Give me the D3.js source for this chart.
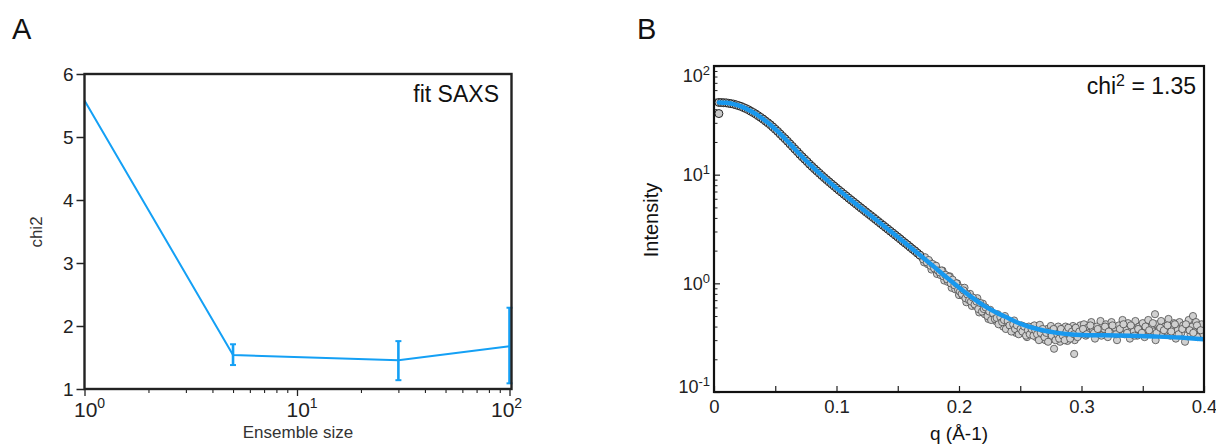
<!DOCTYPE html>
<html><head><meta charset="utf-8">
<script src="https://cdn.jsdelivr.net/npm/d3@7"></script>
<style>
body{margin:0;background:#fff;}
text{font-family:"Liberation Sans", Arial, sans-serif;}
</style>
</head><body>
<svg id="chart" width="1216" height="447"></svg>
<script>
// ---------- Panel A data ----------
const ensembleSizes = [1, 5, 30, 100];
const chi2Values    = [5.58, 1.54, 1.455, 1.68];
const chi2ErrLow    = [null, 1.38, 1.14, 1.09];
const chi2ErrHigh   = [null, 1.71, 1.76, 2.29];
const chi2Ticks     = [1, 2, 3, 4, 5, 6];
const ensembleTickExps = [0, 1, 2];
const ensembleMinorTicks = [2,3,4,5,6,7,8,9,20,30,40,50,60,70,80,90];

// ---------- Panel B data ----------
const fitQ = [0.004,0.010,0.016,0.022,0.028,0.034,0.040,0.046,0.052,0.058,0.064,0.070,0.080,0.090,0.100,0.110,0.120,0.130,0.140,0.150,0.160,0.170,0.180,0.190,0.200,0.210,0.220,0.230,0.240,0.250,0.260,0.270,0.280,0.290,0.300,0.320,0.340,0.360,0.380,0.400];
const fitI = [46.2,45.8,44.6,42.5,39.6,36.2,32.5,28.8,25.0,21.4,18.2,15.4,11.9,9.38,7.52,6.08,4.94,4.03,3.28,2.67,2.16,1.75,1.41,1.13,0.916,0.75,0.627,0.542,0.479,0.425,0.39,0.366,0.35,0.34,0.335,0.332,0.329,0.324,0.317,0.305];

// observed points, low q (lying on the fit)
const obsLow = [[0.004,36.5],[0.004,46.2],[0.006,46.1],[0.008,45.9],[0.010,45.8],[0.012,45.4],[0.014,45.0],[0.016,44.6],[0.018,43.9],[0.020,43.2],[0.022,42.5],[0.024,41.5],[0.026,40.6],[0.028,39.6],[0.030,38.4],[0.032,37.3],[0.034,36.2],[0.036,34.9],[0.038,33.7],[0.040,32.5],[0.042,31.2],[0.044,30.0],[0.046,28.8],[0.048,27.5],[0.050,26.2],[0.052,25.0],[0.054,23.7],[0.056,22.5],[0.058,21.4],[0.060,20.3],[0.062,19.2],[0.064,18.2],[0.066,17.2],[0.068,16.3],[0.070,15.4],[0.072,14.6],[0.074,13.9],[0.076,13.2],[0.078,12.5],[0.080,11.9],[0.082,11.33],[0.084,10.81],[0.086,10.31],[0.088,9.83],
[0.090,9.38],[0.092,8.97],[0.094,8.58],[0.096,8.21],[0.098,7.86],[0.100,7.52],[0.102,7.2],[0.104,6.91],[0.106,6.62],[0.108,6.35],[0.110,6.08],[0.112,5.83],[0.114,5.6],[0.116,5.37],[0.118,5.15],[0.120,4.94],[0.122,4.75],[0.124,4.55],[0.126,4.37],[0.128,4.2],[0.130,4.03],[0.132,3.87],[0.134,3.71],[0.136,3.56],[0.138,3.42],[0.140,3.28],[0.142,3.15],[0.144,3.02],[0.146,2.9],[0.148,2.78],[0.150,2.67],[0.152,2.56],[0.154,2.45],[0.156,2.35],[0.158,2.26],[0.160,2.16],[0.162,2.07],[0.164,1.99],[0.166,1.9],[0.168,1.82]];

// observed points, high q (noisy)
const obsHigh = [[0.1700,1.71],[0.1715,1.56],[0.1730,1.66],[0.1745,1.50],[0.1760,1.58],[0.1775,1.34],[0.1790,1.43],[0.1805,1.46],[0.1820,1.22],[0.1835,1.32],[0.1850,1.19],[0.1865,1.31],[0.1880,1.06],[0.1895,1.18],[0.1910,1.03],[0.1925,1.16],[0.1940,0.91],[0.1955,1.02],[0.1970,0.88],[0.1985,1.00],
[0.2000,0.78],[0.2015,0.91],[0.2030,0.77],[0.2045,0.91],[0.2060,0.67],[0.2075,0.75],[0.2090,0.80],[0.2105,0.62],[0.2120,0.70],[0.2135,0.62],[0.2150,0.73],[0.2165,0.54],[0.2180,0.60],[0.2195,0.65],[0.2210,0.52],[0.2225,0.57],[0.2240,0.47],[0.2255,0.57],[0.2270,0.49],[0.2285,0.51],
[0.2300,0.45],[0.2315,0.52],[0.2330,0.44],[0.2345,0.47],[0.2360,0.40],[0.2375,0.50],[0.2390,0.42],[0.2405,0.39],[0.2420,0.44],[0.2435,0.39],[0.2450,0.455],[0.2465,0.35],[0.2480,0.39],[0.2495,0.37],[0.2510,0.41],[0.2525,0.35],[0.2540,0.38],[0.2555,0.32],[0.2570,0.40],[0.2585,0.35],
[0.2600,0.355],[0.2615,0.41],[0.2630,0.32],[0.2645,0.365],[0.2660,0.415],[0.2675,0.315],[0.2690,0.365],[0.2705,0.30],[0.2720,0.38],[0.2735,0.33],[0.2750,0.405],[0.2765,0.31],[0.2776,0.25],[0.2780,0.355],[0.2795,0.315],[0.2810,0.40],[0.2825,0.29],[0.2840,0.36],[0.2855,0.32],[0.2870,0.40],[0.2885,0.295],[0.2900,0.365],[0.2915,0.325],[0.2930,0.405],[0.2940,0.224],[0.2945,0.30],[0.2960,0.37],[0.2975,0.33],[0.2990,0.41],
[0.3005,0.36],[0.3020,0.42],[0.3035,0.33],[0.3050,0.39],[0.3065,0.35],[0.3080,0.44],[0.3095,0.37],[0.3110,0.31],[0.3125,0.40],[0.3140,0.36],[0.3155,0.45],[0.3170,0.34],[0.3185,0.38],[0.3200,0.42],[0.3215,0.32],[0.3230,0.37],[0.3245,0.44],[0.3260,0.35],[0.3275,0.39],[0.3290,0.30],[0.3305,0.41],[0.3320,0.37],[0.3335,0.46],[0.3350,0.34],[0.3365,0.38],[0.3380,0.43],[0.3395,0.31],[0.3410,0.39],[0.3425,0.36],[0.3440,0.45],[0.3455,0.33],[0.3470,0.40],[0.3485,0.37],[0.3500,0.43],[0.3515,0.32],[0.3530,0.38],[0.3545,0.46],[0.3560,0.35],[0.3575,0.41],[0.3590,0.36],[0.3600,0.52],[0.3605,0.30],[0.3620,0.42],[0.3635,0.38],[0.3650,0.45],[0.3665,0.34],[0.3680,0.40],[0.3695,0.36],[0.3710,0.47],[0.3725,0.33],[0.3740,0.39],[0.3755,0.43],[0.3770,0.31],[0.3785,0.37],[0.3800,0.44],[0.3815,0.35],[0.3830,0.41],[0.3845,0.29],[0.3860,0.38],[0.3875,0.46],[0.3890,0.34],[0.3905,0.40],[0.3910,0.50],[0.3920,0.36],[0.3935,0.44],[0.3950,0.32],[0.3965,0.39],[0.3980,0.42],[0.3995,0.34],
[0.17075,1.66],[0.17225,1.74],[0.17375,1.56],[0.17525,1.64],[0.17675,1.45],[0.17825,1.51],[0.17975,1.37],[0.18125,1.45],[0.18275,1.31],[0.18425,1.26],[0.18575,1.31],[0.18725,1.16],[0.18875,1.20],[0.19025,1.09],[0.19175,1.15],[0.19325,1.0],[0.19475,1.08],[0.19625,0.96],[0.19775,1.0],[0.19925,0.87],
[0.20075,0.84],[0.20225,0.80],[0.20375,0.86],[0.20525,0.73],[0.20675,0.79],[0.20825,0.70],[0.20975,0.68],[0.21125,0.74],[0.21275,0.64],[0.21425,0.68],[0.21575,0.58],[0.21725,0.66],[0.21875,0.55],[0.22025,0.58],[0.22175,0.60],[0.22325,0.50],[0.22475,0.55],[0.22625,0.46],[0.22775,0.53],[0.22925,0.47],
[0.23075,0.48],[0.23225,0.42],[0.23375,0.49],[0.23525,0.44],[0.23675,0.46],[0.23825,0.38],[0.23975,0.45],[0.24125,0.41],[0.24275,0.36],[0.24425,0.42],[0.24575,0.38],[0.24725,0.41],[0.24875,0.34],[0.25025,0.38],[0.25175,0.36],[0.25325,0.40],[0.25475,0.33],[0.25625,0.37],[0.25775,0.34],[0.25925,0.38],
[0.26075,0.33],[0.26225,0.37],[0.26375,0.34],[0.26525,0.30],[0.26675,0.35],[0.26825,0.38],[0.26975,0.32],[0.27125,0.35],[0.27275,0.29],[0.27425,0.36],[0.27575,0.33],[0.27725,0.38],[0.27875,0.30],[0.28025,0.34],[0.28175,0.31],[0.28325,0.38],[0.28475,0.33],[0.28625,0.30],[0.28775,0.36],[0.28925,0.39],[0.29075,0.31],[0.29225,0.36],[0.29375,0.34],[0.29525,0.39],[0.29675,0.32],[0.29825,0.36],
[0.30125,0.38],[0.30425,0.34],[0.30725,0.41],[0.31025,0.35],[0.31325,0.38],[0.31625,0.33],[0.31925,0.40],[0.32225,0.36],[0.32525,0.41],[0.32825,0.34],[0.33125,0.38],[0.33425,0.42],[0.33725,0.35],[0.34025,0.41],[0.34325,0.33],[0.34625,0.38],[0.34925,0.35],[0.35225,0.40],[0.35525,0.37],[0.35825,0.43],[0.36125,0.35],[0.36425,0.39],[0.36725,0.37],[0.37025,0.41],[0.37325,0.36],[0.37625,0.42],[0.37925,0.34],[0.38225,0.38],[0.38525,0.42],[0.38825,0.37],[0.39125,0.35],[0.39425,0.41],[0.39725,0.37]];

const qTickMarks = [0,0.05,0.1,0.15,0.2,0.25,0.3,0.35,0.4];
const qTickLabels = {"0":"0","0.1":"0.1","0.2":"0.2","0.3":"0.3","0.4":"0.4"};
const intensityTickExps = [-1, 0, 1, 2];

// ---------- drawing ----------
const svg = d3.select("#chart");
const INK = "#222";
const BLUE_A = "#14a0f5";
const BLUE_B = "#1898ee";

// ===== Panel A =====
const xA = d3.scaleLog().domain([1, 100]).range([84.5, 509.5]);
const yA = d3.scaleLinear().domain([1, 6]).range([389, 74]);
const gA = svg.append("g");

svg.append("text").attr("x", 12).attr("y", 39).attr("font-size", 29).attr("fill", "#111").text("A");

const yAxA = gA.append("g").attr("transform", "translate(84.5,0)")
  .call(d3.axisLeft(yA).tickValues(chi2Ticks).tickSize(8).tickPadding(3).tickFormat(d3.format("d")));
yAxA.select(".domain").remove();
yAxA.selectAll("line").attr("stroke", INK).attr("stroke-width", 1.5);
yAxA.selectAll("text").attr("font-size", 19).attr("fill", INK).attr("font-family", "Liberation Sans, Arial, sans-serif");

const xMajA = gA.append("g").attr("transform", "translate(0,389)")
  .call(d3.axisBottom(xA).tickValues(ensembleTickExps.map(e => Math.pow(10, e))).tickSize(7).tickFormat(""));
xMajA.select(".domain").remove();
xMajA.selectAll("line").attr("stroke", INK).attr("stroke-width", 1.3);
const xMinA = gA.append("g").attr("transform", "translate(0,389)")
  .call(d3.axisBottom(xA).tickValues(ensembleMinorTicks).tickSize(4).tickFormat(""));
xMinA.select(".domain").remove();
xMinA.selectAll("line").attr("stroke", INK).attr("stroke-width", 1.1);

ensembleTickExps.forEach(e => {
  const cx = xA(Math.pow(10, e)) + (e === 2 ? -8 : 0);
  const t = gA.append("text").attr("x", cx - 10.5).attr("y", 417).attr("font-size", 21).attr("fill", INK);
  t.append("tspan").text("10");
  t.append("tspan").attr("dy", -9).attr("font-size", 14).text(String(e));
});

const lineA = d3.line().x((d, i) => xA(ensembleSizes[i])).y(d => yA(d));
gA.append("path").datum(chi2Values).attr("d", lineA)
  .attr("fill", "none").attr("stroke", BLUE_A).attr("stroke-width", 2);

const errIdx = ensembleSizes.map((d, i) => i).filter(i => chi2ErrLow[i] !== null);
const eb = gA.append("g").attr("stroke", BLUE_A).attr("stroke-width", 2.6);
errIdx.forEach(i => {
  const x = xA(ensembleSizes[i]);
  eb.append("line").attr("x1", x).attr("x2", x).attr("y1", yA(chi2ErrLow[i])).attr("y2", yA(chi2ErrHigh[i]));
  [chi2ErrLow[i], chi2ErrHigh[i]].forEach(v => {
    eb.append("line").attr("x1", x - 3).attr("x2", x + 3).attr("y1", yA(v)).attr("y2", yA(v)).attr("stroke-width", 2);
  });
});

gA.append("rect").attr("x", 84.5).attr("y", 74).attr("width", 427).attr("height", 315)
  .attr("fill", "none").attr("stroke", INK).attr("stroke-width", 2.4);

gA.append("text").attr("x", 499).attr("y", 102).attr("text-anchor", "end").attr("font-size", 23).attr("fill", "#111").text("fit SAXS");
gA.append("text").attr("x", 298).attr("y", 438).attr("text-anchor", "middle").attr("font-size", 17).attr("fill", "#333").text("Ensemble size");
gA.append("text").attr("transform", "translate(42,232) rotate(-90)").attr("text-anchor", "middle").attr("font-size", 17).attr("fill", "#333").text("chi2");

// ===== Panel B =====
const xB = d3.scaleLinear().domain([0, 0.4]).range([714, 1204]);
const yB = d3.scaleLog().domain([0.1, 100]).range([392, 66]);
const gB = svg.append("g");

svg.append("text").attr("x", 637).attr("y", 39).attr("font-size", 29).attr("fill", "#111").text("B");

svg.append("defs").append("clipPath").attr("id", "clipB")
  .append("rect").attr("x", 714).attr("y", 66).attr("width", 490).attr("height", 326);

const yMajB = gB.append("g").attr("transform", "translate(714,0)")
  .call(d3.axisLeft(yB).tickValues(intensityTickExps.map(e => Math.pow(10, e))).tickSize(-6).tickFormat(""));
yMajB.select(".domain").remove();
yMajB.selectAll("line").attr("stroke", INK).attr("stroke-width", 1.2);
const minorI = yB.ticks().filter(v => intensityTickExps.every(e => Math.abs(v - Math.pow(10, e)) > 1e-9));
const yMinB = gB.append("g").attr("transform", "translate(714,0)")
  .call(d3.axisLeft(yB).tickValues(minorI).tickSize(-3.5).tickFormat(""));
yMinB.select(".domain").remove();
yMinB.selectAll("line").attr("stroke", INK).attr("stroke-width", 1);

intensityTickExps.forEach(e => {
  let y = yB(Math.pow(10, e)) + 6.5;
  if (e === 2) y += 9;
  if (e === -1) y -= 6;
  const t = gB.append("text").attr("x", 710).attr("y", y).attr("text-anchor", "end").attr("font-size", 18).attr("fill", INK);
  t.append("tspan").text("10");
  t.append("tspan").attr("dy", -7).attr("font-size", 13).text(String(e));
});

const xAxB = gB.append("g").attr("transform", "translate(0,392)")
  .call(d3.axisBottom(xB).tickValues(qTickMarks).tickSize(-6).tickPadding(8)
    .tickFormat(d => qTickLabels[String(d)] || ""));
xAxB.select(".domain").remove();
xAxB.selectAll("line").attr("stroke", INK).attr("stroke-width", 1.2);
xAxB.selectAll("text").attr("font-size", 18.5).attr("fill", INK).attr("font-family", "Liberation Sans, Arial, sans-serif");

// observed points
const pts = gB.append("g").attr("clip-path", "url(#clipB)");
pts.selectAll("circle.hi").data(obsHigh).join("circle").attr("class", "hi")
  .attr("cx", d => xB(d[0])).attr("cy", d => yB(d[1])).attr("r", 3.6)
  .attr("fill", "#d0d0d0").attr("stroke", "#4a4a4a").attr("stroke-width", 0.8);
pts.selectAll("circle.lo").data(obsLow).join("circle").attr("class", "lo")
  .attr("cx", d => xB(d[0])).attr("cy", d => yB(d[1])).attr("r", 4)
  .attr("fill", "#c8c8c8").attr("stroke", "#262626").attr("stroke-width", 1);

// fit line
const lineB = d3.line().x((d, i) => xB(fitQ[i])).y(d => yB(d)).curve(d3.curveMonotoneX);
pts.append("path").datum(fitI).attr("d", lineB)
  .attr("fill", "none").attr("stroke", BLUE_B).attr("stroke-width", 4.5).attr("stroke-linecap", "round");

gB.append("rect").attr("x", 714).attr("y", 66).attr("width", 490).attr("height", 326)
  .attr("fill", "none").attr("stroke", "#111").attr("stroke-width", 2.2);

const chiT = gB.append("text").attr("x", 1196).attr("y", 94).attr("text-anchor", "end").attr("font-size", 23).attr("fill", "#111");
chiT.append("tspan").text("chi");
chiT.append("tspan").attr("dy", -8).attr("font-size", 16).text("2");
chiT.append("tspan").attr("dy", 8).text(" = 1.35");

gB.append("text").attr("x", 959).attr("y", 440).attr("text-anchor", "middle").attr("font-size", 19).attr("fill", "#111").text("q (Å-1)");
gB.append("text").attr("transform", "translate(658,220) rotate(-90)").attr("text-anchor", "middle").attr("font-size", 20).attr("fill", "#111").text("Intensity");
</script>
</body></html>
